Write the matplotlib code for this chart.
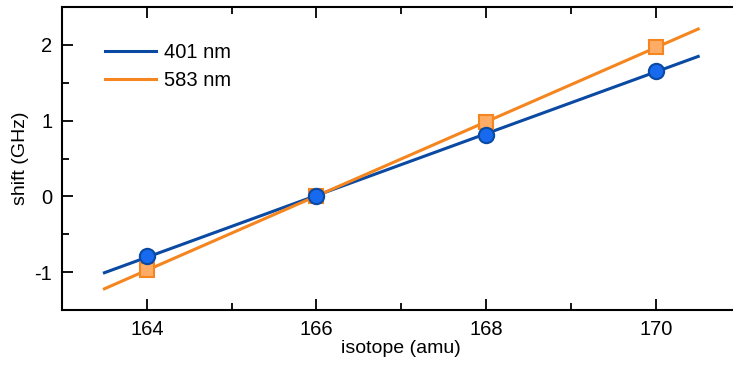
import numpy as np
import matplotlib.pyplot as plt
from matplotlib.ticker import MultipleLocator

plt.rcParams['font.family'] = ['Liberation Sans', 'DejaVu Sans']
plt.rcParams['axes.unicode_minus'] = False

isotope = np.array([164, 166, 168, 170])
shift_401 = np.array([-0.79, 0.0, 0.81, 1.66])
shift_583 = np.array([-0.97, 0.0, 0.98, 1.97])
fit_range = [163.5, 170.5]

c401 = '#0b4aa2'
c583 = '#f5861f'

fig = plt.figure(figsize=(7.33, 3.65), dpi=100)
ax = fig.add_axes([0.0846, 0.1507, 0.9258, 0.830])

xf = np.linspace(fit_range[0], fit_range[1], 2)
p401 = np.polyfit(isotope, shift_401, 1)
p583 = np.polyfit(isotope, shift_583, 1)
ax.plot(xf, np.polyval(p401, xf), color=c401, lw=2.2, label='401 nm')
ax.plot(xf, np.polyval(p583, xf), color=c583, lw=2.2, label='583 nm')
ax.plot(isotope, shift_583, 's', ms=9.5, mfc='#ffad66', mec=c583, mew=1.5, zorder=3)
ax.plot(isotope, shift_401, 'o', ms=11, mfc='#1769ee', mec=c401, mew=1.5, zorder=4)

ax.set_xlim(163, 171)
ax.set_ylim(-1.5, 2.5)
ax.xaxis.set_major_locator(MultipleLocator(2))
ax.xaxis.set_minor_locator(MultipleLocator(1))
ax.yaxis.set_major_locator(MultipleLocator(1))
ax.yaxis.set_minor_locator(MultipleLocator(0.5))
ax.tick_params(which='both', direction='in', top=True, right=False, width=1.3, labelsize=14.5)
ax.tick_params(which='major', length=8, pad=7)
ax.tick_params(which='minor', length=5)
ax.spines['right'].set_visible(False)
for s in ['left', 'bottom', 'top']:
    ax.spines[s].set_linewidth(1.5)

ax.set_xlabel('isotope (amu)', fontsize=14, labelpad=1)
ax.set_ylabel('shift (GHz)', fontsize=14, labelpad=4)
ax.legend(loc='upper left', bbox_to_anchor=(0.037, 0.94), frameon=False, fontsize=14.5,
          handlelength=2.5, handletextpad=0.4, labelspacing=0.42)

fig.savefig('out.png', dpi=100)
